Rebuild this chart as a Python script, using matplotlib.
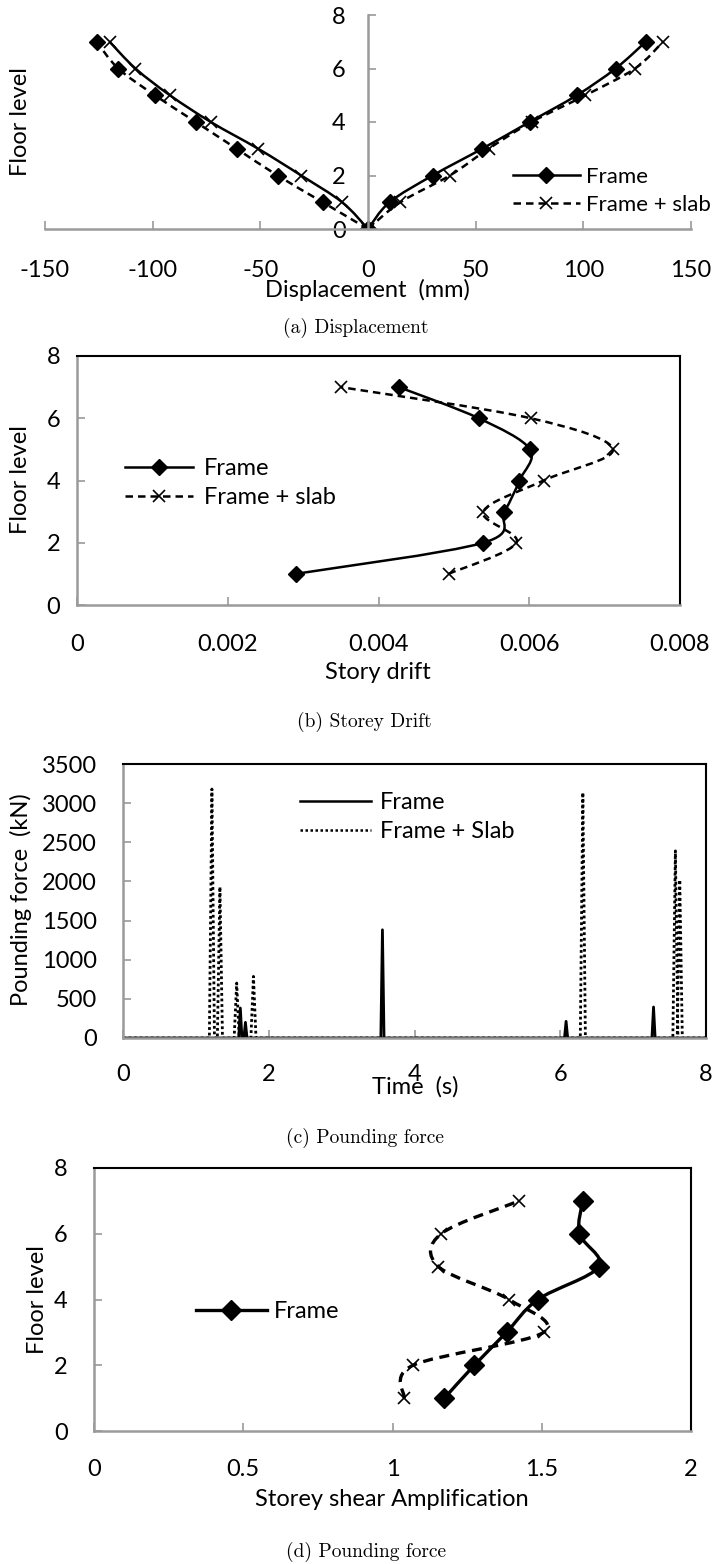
import numpy as np
import matplotlib.pyplot as plt
from matplotlib.path import Path
from matplotlib.patches import PathPatch
from matplotlib.lines import Line2D

plt.rcParams['font.family'] = ['Lato', 'DejaVu Sans']
plt.rcParams['axes.unicode_minus'] = False
SIZE = 17
plt.rc('font', size=SIZE)

W, H = 719, 1564
GRAY = '#9a9a9a'

# (a) displacement, floor levels 0..7
levels_a = [0, 1, 2, 3, 4, 5, 6, 7]
disp_frame_pos = [0, 10, 30, 53, 75, 97, 115, 129]
disp_frame_neg = [0, -21, -42, -61, -80, -99, -116, -126]
disp_slab_pos = [0, 15, 38, 56, 76, 101, 124, 137]
disp_slab_neg = [0, -12, -31, -51, -73, -92, -108, -120]

# (b) storey drift, floor levels 1..7
levels = [1, 2, 3, 4, 5, 6, 7]
drift_frame = [0.0029, 0.00539, 0.00567, 0.00587, 0.00601, 0.00533, 0.00427]
drift_slab = [0.00493, 0.00583, 0.00539, 0.00619, 0.00711, 0.00602, 0.0035]

# (c) pounding force spikes: time (s), peak (kN)
spike_t_frame = [1.61, 1.68, 3.56, 6.08, 7.28]
spike_p_frame = [383, 200, 1382, 213, 396]
spike_t_slab = [1.22, 1.33, 1.56, 1.79, 6.31, 7.58, 7.64]
spike_p_slab = [3180, 1930, 702, 787, 3135, 2390, 2020]

# (d) storey shear amplification, floor levels 1..7
amp_frame = [1.174, 1.274, 1.382, 1.487, 1.691, 1.626, 1.637]
amp_slab = [1.039, 1.069, 1.506, 1.390, 1.154, 1.163, 1.425]


def rect(left, top, right, bottom):
    return [left / W, 1 - bottom / H, (right - left) / W, (bottom - top) / H]


def ftext(x, y, s, **kw):
    fig.text(x / W, 1 - y / H, s, ha='center', va='center', **kw)


def smooth(ax, xs, ys, **kw):
    # excel-like smoothed line (catmull-rom as bezier)
    pts = np.column_stack([xs, ys]).astype(float)
    n = len(pts)
    verts = [pts[0]]
    codes = [Path.MOVETO]
    for i in range(n - 1):
        p0 = pts[max(i - 1, 0)]
        p1 = pts[i]
        p2 = pts[i + 1]
        p3 = pts[min(i + 2, n - 1)]
        verts += [p1 + (p2 - p0) / 6, p2 - (p3 - p1) / 6, p2]
        codes += [Path.CURVE4] * 3
    ax.add_patch(PathPatch(Path(verts, codes), fill=False, color='black', **kw))


def spikes(ts, ps, hw):
    x = [0.0]
    y = [0.0]
    for t, p in zip(ts, ps):
        x += [t - hw, t, t + hw]
        y += [0, p, 0]
    x.append(8.0)
    y.append(0)
    return x, y


def style_box(ax, top_color='black'):
    for s in ['left', 'bottom']:
        ax.spines[s].set_color(GRAY)
        ax.spines[s].set_linewidth(1.8)
    for s in ['top', 'right']:
        ax.spines[s].set_color(top_color)
        ax.spines[s].set_linewidth(1.5)
    ax.tick_params(direction='in', length=6, width=1.2, color=GRAY)


SOLID = dict(lw=1.8, ls='-')
DASH = dict(lw=1.8, ls=(0, (3, 2)))
DMK = dict(marker='D', ms=8, color='black', ls='none')
XMK = dict(marker='x', ms=9, mew=1.2, color='black', ls='none')

h_frame = Line2D([], [], color='black', lw=1.8, marker='D', ms=8)
h_slab = Line2D([], [], color='black', lw=1.8, ls=(0, (3, 2)), marker='x', ms=9, mew=1.2)

fig = plt.figure(figsize=(W / 100, H / 100), dpi=100)

# ---- (a) Displacement
ax = fig.add_axes(rect(45, 15, 691, 229))
smooth(ax, disp_frame_pos, levels_a, **SOLID)
smooth(ax, disp_slab_neg, levels_a, **SOLID)
smooth(ax, disp_slab_pos, levels_a, **DASH)
smooth(ax, disp_frame_neg, levels_a, **DASH)
ax.plot(disp_frame_pos, levels_a, **DMK)
ax.plot(disp_frame_neg, levels_a, **DMK)
ax.plot(disp_slab_pos, levels_a, **XMK)
ax.plot(disp_slab_neg, levels_a, **XMK)
ax.set_xlim(-150, 150)
ax.set_ylim(0, 8)
ax.spines['left'].set_position(('data', 0))
ax.spines['right'].set_visible(False)
ax.spines['top'].set_visible(False)
for s in ['left', 'bottom']:
    ax.spines[s].set_color(GRAY)
    ax.spines[s].set_linewidth(1.8)
ax.set_xticks(np.arange(-150, 151, 50))
ax.set_yticks(np.arange(0, 9, 2))
ax.tick_params(direction='in', length=6, width=1.2, color=GRAY)
ax.tick_params(axis='x', pad=22)
ax.tick_params(axis='y', pad=16)
ax.patch.set_alpha(0)
fig.legend([h_frame, h_slab], ['Frame', 'Frame + slab'], loc='center left',
           bbox_to_anchor=(502 / W, 1 - 191 / H), frameon=False, borderpad=0,
           handlelength=3.0, handletextpad=0.3, labelspacing=0.35, fontsize=16)
ftext(367, 290, 'Displacement  (mm)')
ftext(21, 122, 'Floor level', rotation=90)
ftext(356, 328, '(a) Displacement', family='cmr10', fontsize=14)

# ---- (b) Storey drift
ax = fig.add_axes(rect(77, 356, 680, 605))
smooth(ax, drift_frame, levels, **SOLID)
smooth(ax, drift_slab, levels, **DASH)
ax.plot(drift_frame, levels, **DMK)
ax.plot(drift_slab, levels, **XMK)
ax.set_xlim(0, 0.008)
ax.set_ylim(0, 8)
ax.set_xticks([0, 0.002, 0.004, 0.006, 0.008])
ax.set_xticklabels(['0', '0.002', '0.004', '0.006', '0.008'])
ax.set_yticks(np.arange(0, 9, 2))
style_box(ax)
ax.tick_params(axis='x', pad=21)
ax.tick_params(axis='y', pad=12)
fig.legend([h_frame, h_slab], ['Frame', 'Frame + slab'], loc='center left',
           bbox_to_anchor=(113 / W, 1 - 483 / H), frameon=False, borderpad=0,
           handlelength=2.9, handletextpad=0.45, labelspacing=0.35, fontsize=SIZE)
ftext(378, 673, 'Story drift')
ftext(21, 480, 'Floor level', rotation=90)
ftext(364, 722, '(b) Storey Drift', family='cmr10', fontsize=14)

# ---- (c) Pounding force
ax = fig.add_axes(rect(123, 764, 706, 1038))
xs, ys = spikes(spike_t_slab, spike_p_slab, 0.035)
ax.plot(xs, ys, color='black', lw=2.0, ls=(0, (1, 1)))
xf, yf = spikes(spike_t_frame, spike_p_frame, 0.022)
ax.plot(xf, yf, color='black', lw=2.0)
ax.set_xlim(0, 8)
ax.set_ylim(0, 3500)
ax.set_xticks(np.arange(0, 9, 2))
ax.set_yticks(np.arange(0, 3501, 500))
style_box(ax)
ax.tick_params(axis='x', pad=19)
ax.tick_params(axis='y', pad=19)
h1 = Line2D([], [], color='black', lw=1.8)
h2 = Line2D([], [], color='black', lw=1.8, ls=(0, (1, 1)))
fig.legend([h1, h2], ['Frame', 'Frame + Slab'], loc='center left',
           bbox_to_anchor=(288 / W, 1 - 817 / H), frameon=False, borderpad=0,
           handlelength=3.0, handletextpad=0.4, labelspacing=0.35, fontsize=SIZE)
ftext(415, 1087, 'Time  (s)')
ftext(21, 900, 'Pounding force  (kN)', rotation=90)
ftext(365, 1138, '(c) Pounding force', family='cmr10', fontsize=14)

# ---- (d) Storey shear amplification
ax = fig.add_axes(rect(94, 1168, 691, 1431))
smooth(ax, amp_frame, levels, lw=2.4, ls='-')
smooth(ax, amp_slab, levels, lw=2.4, ls=(0, (3, 2)))
ax.plot(amp_frame, levels, marker='D', ms=10, color='black', ls='none')
ax.plot(amp_slab, levels, **XMK)
ax.set_xlim(0, 2)
ax.set_ylim(0, 8)
ax.set_xticks([0, 0.5, 1, 1.5, 2])
ax.set_xticklabels(['0', '0.5', '1', '1.5', '2'])
ax.set_yticks(np.arange(0, 9, 2))
style_box(ax)
ax.tick_params(axis='x', pad=20)
ax.tick_params(axis='y', pad=19)
h3 = Line2D([], [], color='black', lw=2.4, marker='D', ms=10)
fig.legend([h3], ['Frame'], loc='center left',
           bbox_to_anchor=(184 / W, 1 - 1312 / H), frameon=False, borderpad=0,
           handlelength=3.0, handletextpad=0.3, fontsize=SIZE)
ftext(392, 1500, 'Storey shear Amplification')
ftext(37, 1300, 'Floor level', rotation=90)
ftext(366, 1552, '(d) Pounding force', family='cmr10', fontsize=14)

fig.savefig('out.png', dpi=100)
